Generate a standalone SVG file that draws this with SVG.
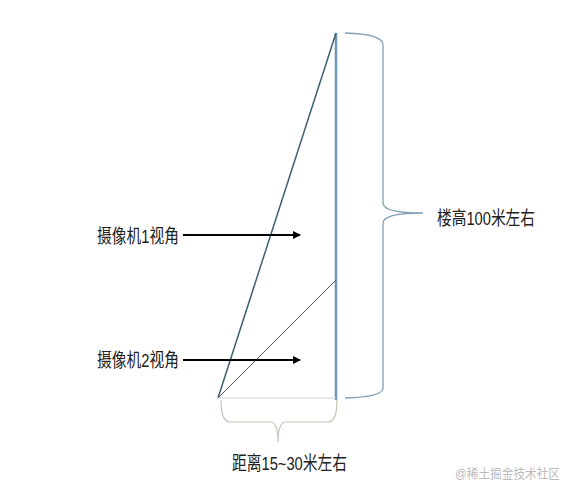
<svg xmlns="http://www.w3.org/2000/svg" width="577" height="495" viewBox="0 0 577 495">
<defs>
<marker id="ah" markerWidth="8" markerHeight="8" refX="7" refY="4" orient="auto" markerUnits="userSpaceOnUse">
<path d="M0,0 L8,4 L0,8 Z" fill="#000"/>
</marker>
<style>
.lbl{font-family:"Liberation Sans","Noto Sans CJK SC",sans-serif;font-size:19px;fill:#222;}
.wm{font-family:"Liberation Sans","Noto Sans CJK SC",sans-serif;font-size:13px;fill:#bbb;}
.arr{stroke:#000;stroke-width:2;fill:none;marker-end:url(#ah);}
</style>
</defs>
<rect width="577" height="495" fill="#fff"/>
<g id="building">
<line x1="336" y1="33" x2="336" y2="400" stroke="#6a98b0" stroke-width="2.5"/>
</g>
<g id="view1">
<line x1="218" y1="398" x2="336" y2="33" stroke="#3d5f72" stroke-width="1.5"/>
</g>
<g id="view2">
<line x1="218" y1="398" x2="336" y2="280" stroke="#555" stroke-width="1"/>
</g>
<g id="ground">
<line x1="218" y1="398" x2="336" y2="398" stroke="#d0d0d0" stroke-width="1"/>
</g>
<g id="height-brace">
<path d="M345,33 Q383,34 383,45 L383,203 Q383,213 423,213 Q383,213 383,223 L383,388 Q383,397 345,398" fill="none" stroke="#7f9fb3" stroke-width="1.3"/>
<text class="lbl" x="437" y="225" textLength="98" lengthAdjust="spacingAndGlyphs">楼高100米左右</text>
</g>
<g id="distance-brace">
<path d="M221,400 Q221,422 230,422 L270,422 Q278,422 278,442 Q278,422 286,422 L328,422 Q337,422 337,400" fill="none" stroke="#c8c2b4" stroke-width="1.2"/>
<text class="lbl" x="232" y="470" textLength="115" lengthAdjust="spacingAndGlyphs">距离15~30米左右</text>
</g>
<g id="label1">
<text class="lbl" x="97" y="243" textLength="82" lengthAdjust="spacingAndGlyphs">摄像机1视角</text>
</g>
<g id="label2">
<text class="lbl" x="97" y="367" textLength="82" lengthAdjust="spacingAndGlyphs">摄像机2视角</text>
</g>
<g id="connectors">
<line class="arr" x1="183" y1="235" x2="300" y2="235"/>
<line class="arr" x1="183" y1="360" x2="300" y2="360"/>
</g>
<text class="wm" x="455" y="478" textLength="105" lengthAdjust="spacingAndGlyphs">@稀土掘金技术社区</text>
</svg>
